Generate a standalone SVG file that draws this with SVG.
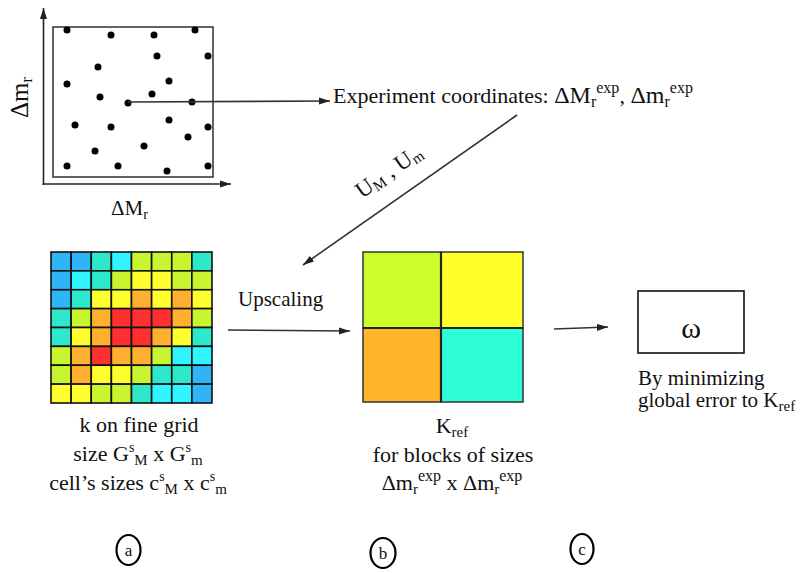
<svg xmlns="http://www.w3.org/2000/svg" width="812" height="573" viewBox="0 0 812 573">
<style>
text{font-family:"Liberation Serif","DejaVu Serif",serif;fill:#111}
.ln{stroke:#333;stroke-width:1.6;fill:none}
.ax{stroke:#222;stroke-width:1.6;fill:none}
.dot{fill:#000}
.c{stroke:#111;stroke-width:1.6}
.B{fill:#30b4f8}.C{fill:#30f4ff}.T{fill:#2ee8cc}.L{fill:#c8f530}.Y{fill:#ffff30}.O{fill:#ffb030}.R{fill:#ff3030}
.blk{stroke:#333;stroke-width:1.5}
.lbl{fill:none;stroke:#000;stroke-width:2.2}
</style>
<defs>
<marker id="ah" markerUnits="userSpaceOnUse" markerWidth="12" markerHeight="10" refX="11" refY="5" orient="auto">
<path d="M0,1.5 L11,5 L0,8.5 Z" fill="#222"/>
</marker>
</defs>

<g id="scatter">
<line class="ax" x1="43.5" y1="185" x2="43.5" y2="8" marker-end="url(#ah)"/>
<line class="ax" x1="42.5" y1="184" x2="231" y2="184" marker-end="url(#ah)"/>
<rect x="53" y="27" width="160" height="150" fill="none" stroke="#222" stroke-width="1.4"/>
<g class="dot">
<circle cx="67" cy="30" r="3.5"/><circle cx="111" cy="35" r="3.5"/><circle cx="154" cy="35" r="3.5"/><circle cx="195" cy="30" r="3.5"/>
<circle cx="157" cy="56" r="3.5"/><circle cx="208" cy="56" r="3.5"/><circle cx="98" cy="67" r="3.5"/><circle cx="67" cy="84" r="3.5"/>
<circle cx="169" cy="81" r="3.5"/><circle cx="100" cy="97" r="3.5"/><circle cx="152" cy="94" r="3.5"/><circle cx="128" cy="103" r="3.5"/>
<circle cx="192" cy="102" r="3.5"/><circle cx="75" cy="125" r="3.5"/><circle cx="111" cy="127" r="3.5"/><circle cx="169" cy="120" r="3.5"/>
<circle cx="208" cy="127" r="3.5"/><circle cx="188" cy="137" r="3.5"/><circle cx="144" cy="146" r="3.5"/><circle cx="95" cy="151" r="3.5"/>
<circle cx="67" cy="166" r="3.5"/><circle cx="118" cy="166" r="3.5"/><circle cx="167" cy="171" r="3.5"/><circle cx="208" cy="166" r="3.5"/>
</g>
<text transform="translate(28,118) rotate(-90)" font-size="25">Δm<tspan font-size="16" dy="4">r</tspan></text>
<text x="111" y="215" font-size="21">ΔM<tspan font-size="14" dy="4">r</tspan></text>
</g>

<g id="experiment">
<text x="333" y="103" font-size="22">Experiment coordinates: <tspan font-size="24">ΔM</tspan><tspan font-size="16" dy="4">r</tspan><tspan font-size="16" dy="-14">exp</tspan><tspan dy="10">, </tspan><tspan font-size="24">Δm</tspan><tspan font-size="16" dy="4">r</tspan><tspan font-size="16" dy="-14">exp</tspan></text>
</g>

<g id="fine-grid" class="c">
<rect class="B" x="51" y="252" width="20.125" height="18.875"/><rect class="B" x="71.125" y="252" width="20.125" height="18.875"/><rect class="T" x="91.25" y="252" width="20.125" height="18.875"/><rect class="C" x="111.375" y="252" width="20.125" height="18.875"/><rect class="L" x="131.5" y="252" width="20.125" height="18.875"/><rect class="L" x="151.625" y="252" width="20.125" height="18.875"/><rect class="L" x="171.75" y="252" width="20.125" height="18.875"/><rect class="T" x="191.875" y="252" width="20.125" height="18.875"/>
<rect class="B" x="51" y="270.875" width="20.125" height="18.875"/><rect class="C" x="71.125" y="270.875" width="20.125" height="18.875"/><rect class="T" x="91.25" y="270.875" width="20.125" height="18.875"/><rect class="L" x="111.375" y="270.875" width="20.125" height="18.875"/><rect class="Y" x="131.5" y="270.875" width="20.125" height="18.875"/><rect class="Y" x="151.625" y="270.875" width="20.125" height="18.875"/><rect class="L" x="171.75" y="270.875" width="20.125" height="18.875"/><rect class="L" x="191.875" y="270.875" width="20.125" height="18.875"/>
<rect class="B" x="51" y="289.75" width="20.125" height="18.875"/><rect class="T" x="71.125" y="289.75" width="20.125" height="18.875"/><rect class="Y" x="91.25" y="289.75" width="20.125" height="18.875"/><rect class="Y" x="111.375" y="289.75" width="20.125" height="18.875"/><rect class="O" x="131.5" y="289.75" width="20.125" height="18.875"/><rect class="Y" x="151.625" y="289.75" width="20.125" height="18.875"/><rect class="O" x="171.75" y="289.75" width="20.125" height="18.875"/><rect class="Y" x="191.875" y="289.75" width="20.125" height="18.875"/>
<rect class="T" x="51" y="308.625" width="20.125" height="18.875"/><rect class="L" x="71.125" y="308.625" width="20.125" height="18.875"/><rect class="O" x="91.25" y="308.625" width="20.125" height="18.875"/><rect class="R" x="111.375" y="308.625" width="20.125" height="18.875"/><rect class="R" x="131.5" y="308.625" width="20.125" height="18.875"/><rect class="R" x="151.625" y="308.625" width="20.125" height="18.875"/><rect class="O" x="171.75" y="308.625" width="20.125" height="18.875"/><rect class="L" x="191.875" y="308.625" width="20.125" height="18.875"/>
<rect class="T" x="51" y="327.5" width="20.125" height="18.875"/><rect class="Y" x="71.125" y="327.5" width="20.125" height="18.875"/><rect class="O" x="91.25" y="327.5" width="20.125" height="18.875"/><rect class="R" x="111.375" y="327.5" width="20.125" height="18.875"/><rect class="R" x="131.5" y="327.5" width="20.125" height="18.875"/><rect class="O" x="151.625" y="327.5" width="20.125" height="18.875"/><rect class="Y" x="171.75" y="327.5" width="20.125" height="18.875"/><rect class="T" x="191.875" y="327.5" width="20.125" height="18.875"/>
<rect class="L" x="51" y="346.375" width="20.125" height="18.875"/><rect class="O" x="71.125" y="346.375" width="20.125" height="18.875"/><rect class="R" x="91.25" y="346.375" width="20.125" height="18.875"/><rect class="O" x="111.375" y="346.375" width="20.125" height="18.875"/><rect class="O" x="131.5" y="346.375" width="20.125" height="18.875"/><rect class="L" x="151.625" y="346.375" width="20.125" height="18.875"/><rect class="C" x="171.75" y="346.375" width="20.125" height="18.875"/><rect class="C" x="191.875" y="346.375" width="20.125" height="18.875"/>
<rect class="L" x="51" y="365.25" width="20.125" height="18.875"/><rect class="O" x="71.125" y="365.25" width="20.125" height="18.875"/><rect class="Y" x="91.25" y="365.25" width="20.125" height="18.875"/><rect class="Y" x="111.375" y="365.25" width="20.125" height="18.875"/><rect class="L" x="131.5" y="365.25" width="20.125" height="18.875"/><rect class="T" x="151.625" y="365.25" width="20.125" height="18.875"/><rect class="T" x="171.75" y="365.25" width="20.125" height="18.875"/><rect class="B" x="191.875" y="365.25" width="20.125" height="18.875"/>
<rect class="Y" x="51" y="384.125" width="20.125" height="18.875"/><rect class="Y" x="71.125" y="384.125" width="20.125" height="18.875"/><rect class="L" x="91.25" y="384.125" width="20.125" height="18.875"/><rect class="L" x="111.375" y="384.125" width="20.125" height="18.875"/><rect class="T" x="131.5" y="384.125" width="20.125" height="18.875"/><rect class="C" x="151.625" y="384.125" width="20.125" height="18.875"/><rect class="C" x="171.75" y="384.125" width="20.125" height="18.875"/><rect class="B" x="191.875" y="384.125" width="20.125" height="18.875"/>
</g>
<g id="fine-grid-label" font-size="22" text-anchor="middle">
<text x="139" y="432">k on fine grid</text>
<text x="138" y="461">size G<tspan font-size="14" dy="-9">s</tspan><tspan font-size="15" dy="13">M</tspan><tspan dy="-4"> x G</tspan><tspan font-size="14" dy="-9">s</tspan><tspan font-size="15" dy="13">m</tspan></text>
<text x="138" y="490">cell’s sizes c<tspan font-size="14" dy="-9">s</tspan><tspan font-size="15" dy="13">M</tspan><tspan dy="-4"> x c</tspan><tspan font-size="14" dy="-9">s</tspan><tspan font-size="15" dy="13">m</tspan></text>
</g>

<g id="coarse-grid" class="blk">
<rect x="363" y="252" width="78" height="76" fill="#ccff2a"/>
<rect x="441" y="252" width="82" height="76" fill="#ffff2a"/>
<rect x="363" y="328" width="78" height="74" fill="#ffb42a"/>
<rect x="441" y="328" width="82" height="74" fill="#2effd8"/>
<line x1="441" y1="252" x2="441" y2="402" stroke="#222" stroke-width="2.2"/>
<line x1="363" y1="328" x2="523" y2="328" stroke="#222" stroke-width="2.2"/>
</g>
<g id="coarse-grid-label" font-size="22" text-anchor="middle">
<text x="452" y="433">K<tspan font-size="15" dy="4">ref</tspan></text>
<text x="453" y="462">for blocks of  sizes</text>
<text x="452" y="490">Δm<tspan font-size="15" dy="4">r</tspan><tspan font-size="16" dy="-13">exp</tspan><tspan dy="9"> x Δm</tspan><tspan font-size="15" dy="4">r</tspan><tspan font-size="16" dy="-13">exp</tspan></text>
</g>

<g id="omega">
<rect x="638" y="291" width="106" height="62" fill="#fff" stroke="#111" stroke-width="1.6"/>
<text x="691" y="338" font-size="30" text-anchor="middle">ω</text>
<text x="638" y="385" font-size="21">By minimizing</text>
<text x="638" y="407" font-size="21">global error to K<tspan font-size="15" dy="4">ref</tspan></text>
</g>

<g id="labels">
<g id="label-a"><ellipse class="lbl" cx="128.5" cy="550" rx="12" ry="15"/><text x="128.5" y="556" font-size="17" text-anchor="middle">a</text></g>
<g id="label-b"><ellipse class="lbl" cx="383" cy="553" rx="12.5" ry="15"/><text x="383" y="559" font-size="17" text-anchor="middle">b</text></g>
<g id="label-c"><ellipse class="lbl" cx="582" cy="549" rx="11.5" ry="15"/><text x="582" y="555" font-size="17" text-anchor="middle">c</text></g>
</g>

<g id="connectors">
<line class="ln" x1="128" y1="102" x2="330" y2="101" marker-end="url(#ah)"/>
<line class="ln" x1="517" y1="115" x2="303" y2="265" marker-end="url(#ah)"/>
<text transform="translate(362,199) rotate(-35)" font-size="23">U<tspan font-size="15" dy="3">M</tspan><tspan dy="-3"> , U</tspan><tspan font-size="15" dy="3">m</tspan></text>
<line class="ln" x1="228" y1="330" x2="350" y2="331" marker-end="url(#ah)"/>
<text x="238" y="306" font-size="21">Upscaling</text>
<line class="ln" x1="554" y1="329" x2="608" y2="327" marker-end="url(#ah)"/>
</g>
</svg>
